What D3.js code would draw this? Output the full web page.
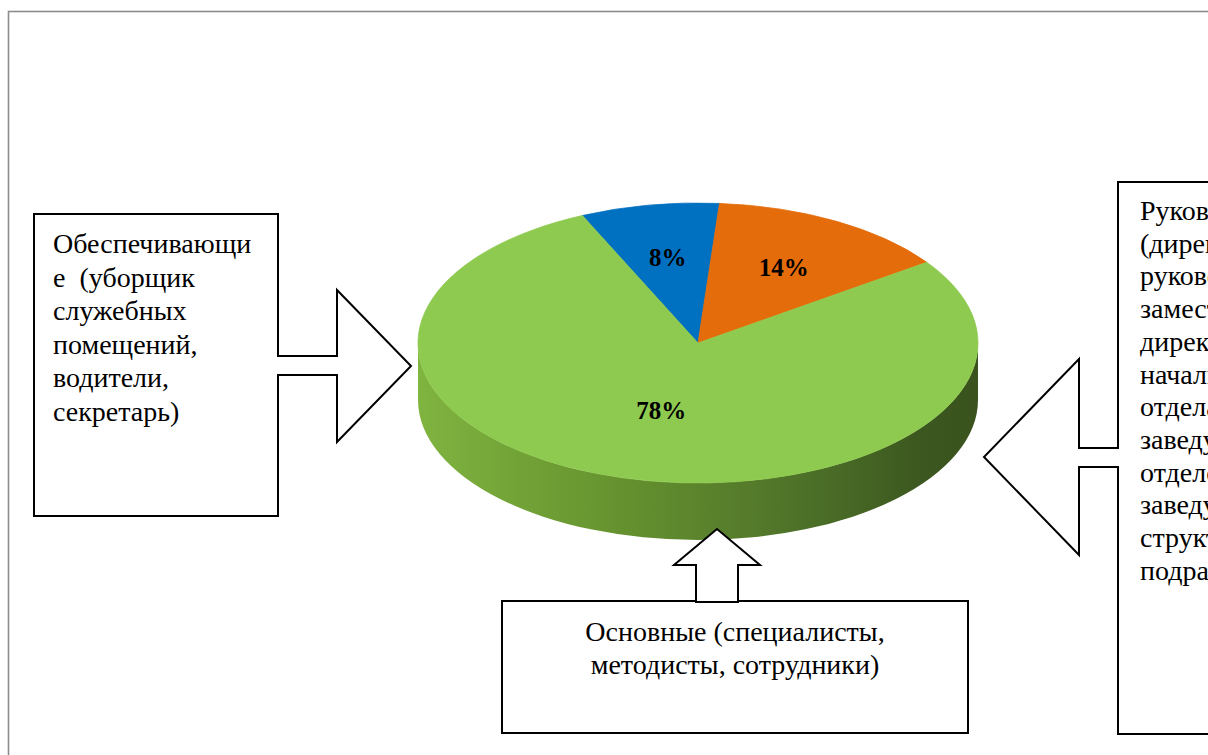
<!DOCTYPE html>
<html>
<head>
<meta charset="utf-8">
<script src="https://cdn.jsdelivr.net/npm/d3@7"></script>
<style>
  body { margin: 0; background: #fff; }
  svg { display: block; }
  .box { fill: #fff; stroke: #000; stroke-width: 2; }
  .arrow { fill: #fff; stroke: #000; stroke-width: 2; stroke-linejoin: miter; }
  .caption { font-family: "Liberation Serif", "Times New Roman", serif; font-size: 28px; fill: #000; }
  .pct { font-family: "Liberation Serif", "Times New Roman", serif; font-size: 25px; font-weight: bold; fill: #000; }
</style>
</head>
<body>
<div id="chart"></div>
<script>
// ------------------------------------------
//  Data
// ------------------------------------------
const categories = ['Руководители', 'Обеспечивающие', 'Основные']
const shares = [8, 14, 78]
const topColors = ['#0070c0', '#e46c0a', '#8fca50']
const sideColors = ['#00508a', '#a84f07', '#5a8230']

const leftLines = ['Обеспечивающи', 'е  (уборщик', 'служебных', 'помещений,', 'водители,', 'секретарь)']
const bottomLines = ['Основные (специалисты,', 'методисты, сотрудники)']
const rightLines = ['Руководители', '(директор,', 'руководитель,', 'заместитель', 'директора,', 'начальник',
  'отдела,', 'заведующий', 'отделом,', 'заведующий', 'структурным', 'подразделением)']

// ------------------------------------------
//  Layout
// ------------------------------------------
const W = 1208, H = 755
const cx = 698, cy = 343, rx = 280, ry = 140, depth = 57
const rad = d => d * Math.PI / 180

const svg = d3.select('#chart').append('svg')
  .attr('width', W).attr('height', H)

// outer frame (runs off the page on the right and bottom)
svg.append('rect')
  .attr('x', 8.5).attr('y', 11.5)
  .attr('width', 1400).attr('height', 1000)
  .attr('fill', 'none').attr('stroke', '#8c8c8c').attr('stroke-width', 1.6)

// ------------------------------------------
//  3D pie
// ------------------------------------------
const pie = d3.pie().sort(null)
  .startAngle(rad(-24.4))
  .endAngle(rad(-24.4) + 2 * Math.PI)
const arcs = pie(shares)

const px = a => cx + rx * Math.sin(a)
const py = a => cy - ry * Math.cos(a)

const defs = svg.append('defs')
const grad = defs.append('linearGradient')
  .attr('id', 'side-green')
  .attr('gradientUnits', 'userSpaceOnUse')
  .attr('x1', cx - rx).attr('x2', cx + rx).attr('y1', 0).attr('y2', 0)
const stops = [[0, '#80b440'], [0.12, '#76a83a'], [0.35, '#66932f'], [0.55, '#587f2c'], [0.75, '#486a26'], [0.9, '#3c571f'], [1, '#3a531e']]
stops.forEach(s => grad.append('stop').attr('offset', s[0]).attr('stop-color', s[1]))

function sidePath(a0, a1) {
  const large = (a1 - a0) > Math.PI ? 1 : 0
  return `M${px(a0)},${py(a0)} A${rx},${ry} 0 ${large} 1 ${px(a1)},${py(a1)}` +
    ` L${px(a1)},${py(a1) + depth} A${rx},${ry} 0 ${large} 0 ${px(a0)},${py(a0) + depth} Z`
}

function topPath(a0, a1) {
  const large = (a1 - a0) > Math.PI ? 1 : 0
  return `M${cx},${cy} L${px(a0)},${py(a0)} A${rx},${ry} 0 ${large} 1 ${px(a1)},${py(a1)} Z`
}

// side walls: only the front half (angles between 90 and 270 deg) is seen
const side = svg.append('g')
arcs.forEach((d, i) => {
  const segs = []
  for (let k = -1; k <= 1; k++) {
    const lo = Math.PI / 2 + k * 2 * Math.PI, hi = 3 * Math.PI / 2 + k * 2 * Math.PI
    const a0 = Math.max(d.startAngle, lo), a1 = Math.min(d.endAngle, hi)
    if (a1 > a0) segs.push([a0, a1])
  }
  segs.forEach(s => side.append('path')
    .attr('d', sidePath(s[0], s[1]))
    .attr('fill', i === 2 ? 'url(#side-green)' : sideColors[i]))
})

// top face
svg.append('g').selectAll('path')
  .data(arcs)
  .join('path')
  .attr('d', d => topPath(d.startAngle, d.endAngle))
  .attr('fill', (d, i) => topColors[i])
  .attr('stroke', (d, i) => topColors[i])
  .attr('stroke-width', 0.8)

// percentage labels (the big slice gets its label a bit nearer the centre)
const labelR = d => (d.endAngle - d.startAngle) > Math.PI ? 0.5 : 0.62
const mid = d => (d.startAngle + d.endAngle) / 2
svg.append('g').selectAll('text')
  .data(arcs)
  .join('text')
  .attr('class', 'pct')
  .attr('text-anchor', 'middle')
  .attr('dy', '0.35em')
  .attr('x', d => cx + labelR(d) * rx * Math.sin(mid(d)))
  .attr('y', d => cy - labelR(d) * ry * Math.cos(mid(d)))
  .text(d => d.data + '%')

// ------------------------------------------
//  Boxes and block arrows
// ------------------------------------------
function box(x, y, w, h) {
  svg.append('rect').attr('class', 'box')
    .attr('x', x).attr('y', y).attr('width', w).attr('height', h)
}

function lines(list, x, y0, step, anchor) {
  const t = svg.append('text').attr('class', 'caption').attr('text-anchor', anchor)
  list.forEach((s, i) => t.append('tspan').attr('x', x).attr('y', y0 + i * step)
    .attr('xml:space', 'preserve').text(s))
}

const line = d3.line()

box(34, 214, 244, 302)
box(502, 601, 466, 132)
box(1118, 182, 300, 552)

// left arrow (points right), open at the box side
svg.append('path').attr('class', 'arrow')
  .attr('d', line([[277, 356], [337, 356], [337, 290], [411, 366], [337, 442], [337, 375], [277, 375]]))

// right arrow (points left), open at the box side
svg.append('path').attr('class', 'arrow')
  .attr('d', line([[1119, 448], [1079, 448], [1079, 359], [984, 457], [1079, 555], [1079, 467], [1119, 467]]))

// bottom arrow (points up)
svg.append('path').attr('class', 'arrow')
  .attr('d', line([[696, 602], [696, 565], [674, 565], [717, 529], [760, 565], [738, 565], [738, 602]]) + 'Z')

lines(leftLines, 53, 253, 33.5, 'start')
lines(bottomLines, 735, 641, 33, 'middle')
lines(rightLines, 1140, 220, 32.7, 'start')
</script>
</body>
</html>
